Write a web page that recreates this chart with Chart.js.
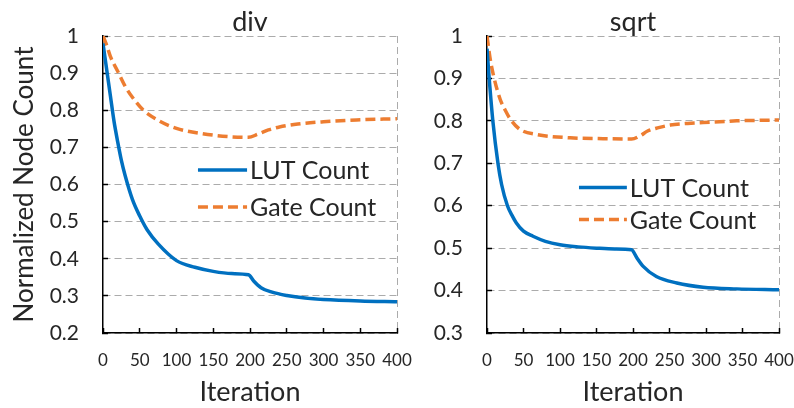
<!DOCTYPE html>
<html>
<head>
<meta charset="utf-8">
<script src="https://cdn.jsdelivr.net/npm/chart.js@4.4.0/dist/chart.umd.min.js"></script>
<style>
    body { margin: 0; background: #fff; }
    #wrap { position: relative; width: 794px; height: 408px; overflow: hidden; }
    #divChart { position: absolute; left: 0; top: 0; }
    #sqrtChart { position: absolute; left: 400px; top: 0; }
</style>
</head>
<body>
<div id="wrap">
    <canvas id="divChart" width="420" height="408"></canvas>
    <canvas id="sqrtChart" width="394" height="408"></canvas>
</div>
<script>
// div panel
const divLutIters = [0, 5, 10, 15, 20, 25, 30, 40, 50, 60, 75, 100, 125, 150, 175, 198, 205, 215, 230, 250, 275, 300, 350, 400]
const divLut = [0.98, 0.91, 0.84, 0.77, 0.715, 0.665, 0.625, 0.56, 0.515, 0.478, 0.44, 0.395, 0.377, 0.366, 0.36, 0.357, 0.34, 0.322, 0.31, 0.301, 0.294, 0.29, 0.286, 0.284]
const divGateIters = [0, 5, 10, 20, 30, 40, 55, 75, 100, 135, 170, 198, 210, 225, 240, 265, 300, 345, 400]
const divGate = [1.0, 0.975, 0.945, 0.905, 0.865, 0.835, 0.80, 0.773, 0.751, 0.737, 0.729, 0.727, 0.735, 0.747, 0.755, 0.763, 0.769, 0.774, 0.777]

// sqrt panel
const sqrtLutIters = [0, 3, 8, 15, 20, 28, 35, 40, 50, 63, 80, 100, 125, 150, 175, 198, 205, 214, 232, 260, 296, 342, 400]
const sqrtLut = [0.97, 0.9, 0.8, 0.7, 0.65, 0.6, 0.575, 0.56, 0.54, 0.528, 0.516, 0.508, 0.503, 0.5, 0.498, 0.496, 0.478, 0.457, 0.433, 0.418, 0.408, 0.404, 0.402]
const sqrtGateIters = [0, 4, 9, 18, 25, 32, 45, 68, 114, 159, 198, 210, 220, 235, 251, 275, 296, 342, 400]
const sqrtGate = [1.0, 0.95, 0.906, 0.851, 0.825, 0.804, 0.78, 0.768, 0.76, 0.758, 0.757, 0.765, 0.776, 0.784, 0.79, 0.794, 0.796, 0.80, 0.802]

const seriesNames = ["LUT Count", "Gate Count"]
const xTicks = [0, 50, 100, 150, 200, 250, 300, 350, 400]

const BLUE = "#0070C0"
const ORANGE = "#ED7D31"
const GRID = "#ABABAB"
const TEXT = "#262626"
const FONT = "Lato, 'Open Sans', sans-serif"

const toPoints = (xs, ys) => xs.map((x, i) => ({ x: x, y: ys[i] }))

// legend drawn inside the plot area, placed relative to chartArea
const insideLegend = {
    id: "insideLegend",
    afterDatasetsDraw(chart, args, opts) {
        const { ctx, chartArea: a } = chart
        const x0 = a.left + a.width * opts.x0
        const x1 = a.left + a.width * opts.x1
        chart.data.datasets.forEach((ds, i) => {
            const y = a.top + a.height * opts.ys[i]
            ctx.save()
            ctx.strokeStyle = ds.borderColor
            ctx.lineWidth = ds.borderWidth
            ctx.setLineDash(ds.borderDash || [])
            ctx.beginPath()
            ctx.moveTo(x0, y)
            ctx.lineTo(x1, y)
            ctx.stroke()
            ctx.setLineDash([])
            ctx.fillStyle = TEXT
            ctx.font = "25px " + FONT
            ctx.textBaseline = "middle"
            ctx.textAlign = "left"
            ctx.fillText(ds.label, x1 + 3, y + 1)
            ctx.restore()
        })
    }
}

const makeChart = (id, title, lut, gate, yMin, axisWidth, rightPad, yTitle, legendPos) => {
    var ctx = document.getElementById(id).getContext('2d')
    return new Chart(ctx, {
        type: 'line',
        data: {
            datasets: [{
                label: seriesNames[0],
                data: lut,
                borderColor: BLUE,
                borderWidth: 3.5,
                pointRadius: 0,
                cubicInterpolationMode: 'monotone'
            }, {
                label: seriesNames[1],
                data: gate,
                borderColor: ORANGE,
                borderWidth: 3.5,
                borderDash: [10, 5],
                pointRadius: 0,
                cubicInterpolationMode: 'monotone'
            }]
        },
        options: {
            responsive: false,
            animation: false,
            layout: { padding: { left: 0, right: rightPad, top: 0, bottom: 0 } },
            plugins: {
                legend: { display: false },
                tooltip: { enabled: false },
                title: {
                    display: true,
                    fullSize: false,
                    text: title,
                    color: TEXT,
                    font: { family: FONT, size: 27, weight: 'normal', lineHeight: 1.0 },
                    padding: { top: 9, bottom: 0 }
                },
                insideLegend: legendPos
            },
            scales: {
                x: {
                    type: 'linear',
                    min: 0,
                    max: 400,
                    afterBuildTicks: (scale) => { scale.ticks = xTicks.map(v => ({ value: v })) },
                    afterFit: (scale) => {
                        scale.height = 75
                        scale.paddingLeft = 0
                        scale.paddingRight = 0
                    },
                    ticks: {
                        autoSkip: false,
                        maxRotation: 0,
                        padding: 22,
                        color: TEXT,
                        font: { family: FONT, size: 17 }
                    },
                    grid: {
                        color: (c) => c.index === xTicks.length - 1 ? GRID : 'rgba(0,0,0,0)',
                        lineWidth: 1,
                        tickLength: -5,
                        tickColor: '#000',
                        tickWidth: 1.5
                    },
                    border: { color: '#000', width: 1.5, dash: [7, 4] },
                    title: {
                        display: true,
                        text: 'Iteration',
                        color: TEXT,
                        font: { family: FONT, size: 27 },
                        padding: { top: 0, bottom: 0 }
                    }
                },
                y: {
                    min: yMin,
                    max: 1,
                    afterFit: (scale) => {
                        scale.width = axisWidth
                        scale.paddingTop = 0
                        scale.paddingBottom = 0
                    },
                    ticks: {
                        stepSize: 0.1,
                        padding: 29,
                        color: TEXT,
                        font: { family: FONT, size: 21 },
                        callback: (v) => Math.round(v * 10) / 10
                    },
                    grid: {
                        color: GRID,
                        lineWidth: 1,
                        tickLength: -5,
                        tickColor: '#000',
                        tickWidth: 1.5
                    },
                    border: { color: '#000', width: 1.5, dash: [7, 4] },
                    title: {
                        display: yTitle !== null,
                        text: yTitle || '',
                        color: TEXT,
                        font: { family: FONT, size: 26 },
                        padding: { top: 9, bottom: 0 }
                    }
                }
            }
        },
        plugins: [insideLegend]
    })
}

makeChart('divChart', 'div',
    toPoints(divLutIters, divLut), toPoints(divGateIters, divGate),
    0.2, 103, 23, 'Normalized Node Count',
    { x0: 0.323, x1: 0.49, ys: [0.451, 0.576] })

makeChart('sqrtChart', 'sqrt',
    toPoints(sqrtLutIters, sqrtLut), toPoints(sqrtGateIters, sqrtGate),
    0.3, 87, 15, null,
    { x0: 0.315, x1: 0.479, ys: [0.51, 0.618] })
</script>
</body>
</html>
